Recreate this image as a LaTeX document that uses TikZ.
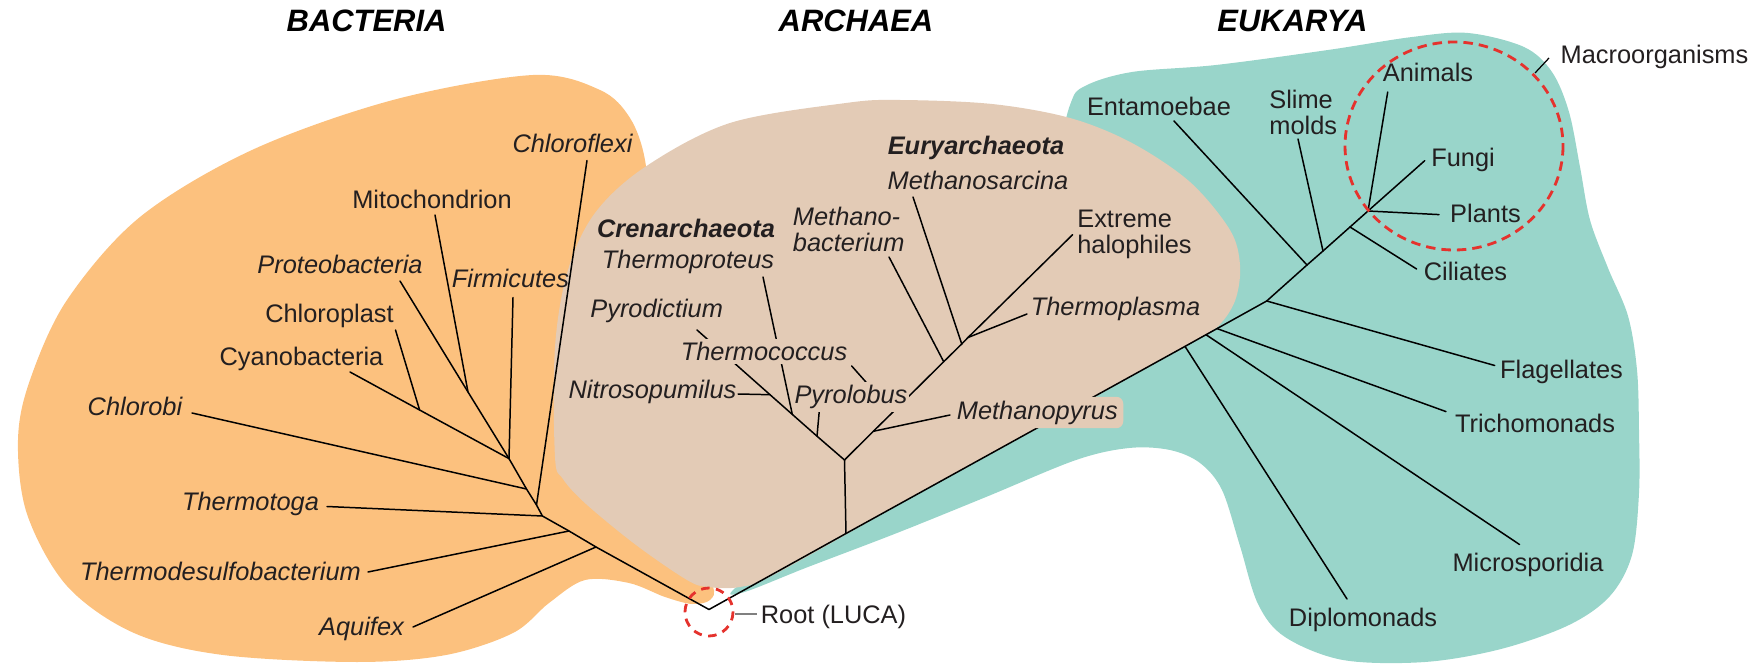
\documentclass[tikz,border=0pt]{standalone}
\usepackage{fontspec}
\setmainfont{Liberation Sans}
\definecolor{bact}{HTML}{FCC17E}
\definecolor{arch}{HTML}{E3CBB6}
\definecolor{euk}{HTML}{99D5CA}
\definecolor{luca}{HTML}{E5322D}
\definecolor{ink}{HTML}{231F20}
\newcommand{\labfont}{\fontsize{14.45}{14.8}\selectfont}
\begin{document}
\begin{tikzpicture}[x=0.02cm,y=-0.02cm,
  lab/.style={font=\labfont, text=ink, inner sep=0pt, anchor=mid},
  itl/.style={lab, font=\labfont\itshape},
  bit/.style={lab, font=\labfont\bfseries\itshape},
  mlab/.style={lab, anchor=west, align=left},
  mitl/.style={itl, anchor=west, align=left},
  title/.style={font=\fontsize{17.6}{18}\selectfont\bfseries\itshape, text=black, inner sep=0pt, anchor=mid},
  knock/.style={fill=arch, inner xsep=0.03cm, inner ysep=0.06cm},
  br/.style={draw=black, line width=0.85pt, line cap=round},
  ring/.style={draw=luca, line width=1.6pt},
  pointer/.style={draw=black, line width=0.7pt}]
\useasboundingbox (0,0) rectangle (1758,665);

% ---------- domain blobs ----------
\fill[bact] plot[smooth cycle, tension=0.55] coordinates {(533,75) (393,100) (252,150) (140,217) (67,300) (30,380) (18,440) (27,514) (67,586) (134,633) (223,655) (357,662) (446,655) (513,633) (549,603) (585,580) (629,583) (665,597) (692,604) (710,600) (712,585) (680,540) (640,460) (640,330) (648,220) (645,160) (630,118) (600,90)};
\fill[euk] plot[smooth cycle, tension=0.55] coordinates {(1070,105) (1085,86) (1132,72) (1216,65) (1328,50) (1412,37) (1468,33) (1524,47) (1552,72) (1569,112) (1580,167) (1590,220) (1608,268) (1628,316) (1637,370) (1639,431) (1639,493) (1632,555) (1610,596) (1569,625) (1501,649) (1425,662) (1343,660) (1285,637) (1258,604) (1240,546) (1222,490) (1200,463) (1170,450) (1129,448) (1076,460) (986,497) (897,533) (808,567) (741,593) (745,580) (900,470) (1000,320) (1050,180)};
\fill[arch] plot[smooth cycle, tension=0.55] coordinates {(740,587) (775,574) (900,504) (1000,449) (1100,394) (1200,338) (1222,322) (1236,298) (1240,265) (1230,230) (1190,182) (1132,143) (1070,118) (992,104) (900,100) (846,103) (730,123) (645,167) (595,213) (568,270) (555,347) (555,457) (563,479) (586,504) (636,545) (687,580) (708,587)};

% ---------- tree coordinates ----------
\coordinate (R) at (709,609.5);
% bacteria
\coordinate (bJaq) at (596,547);
\coordinate (bJtd) at (569,531);
\coordinate (bJtt) at (542.4,516);
\coordinate (bJcf) at (536.5,505);
\coordinate (bJcb) at (526.5,489);
\coordinate (bJf) at (509,458.6);
\coordinate (bJmi) at (468,392);
\coordinate (bJcp) at (419.6,410);
\coordinate (eAq) at (413,627);
\coordinate (eTd) at (368,572);
\coordinate (eTt) at (327,506.5);
\coordinate (eCf) at (587,160.5);
\coordinate (eCb) at (192,413);
\coordinate (eFi) at (513,297.5);
\coordinate (ePr) at (400,281);
\coordinate (eMi) at (435,215);
\coordinate (eCy) at (350,372);
\coordinate (eCp) at (395.5,330);
% archaea
\coordinate (aJ0) at (846,533.5);
\coordinate (aJ1) at (844.5,460);
\coordinate (ePd) at (697,330);
\coordinate (cJni) at (770,394.7);
\coordinate (cJtp) at (792.3,414.4);
\coordinate (cJpl) at (817,436.2);
\coordinate (eNi) at (738,394);
\coordinate (eTp) at (763,277);
\coordinate (ePl) at (819.3,410.7);
\coordinate (eEh) at (1072.6,234.7);
\coordinate (yJmp) at (873.3,431.3);
\coordinate (yJtc) at (892.7,412.3);
\coordinate (yJmb) at (943.7,361.7);
\coordinate (yJms) at (961.7,344);
\coordinate (yJtpl) at (968,337.5);
\coordinate (eMp) at (950,415);
\coordinate (eTc) at (851.7,366);
\coordinate (eMb) at (889,257);
\coordinate (eMs) at (913,197);
\coordinate (eTpl) at (1027,314);
% eukarya
\coordinate (kJdi) at (1185,346.4);
\coordinate (kJmi) at (1206,334.7);
\coordinate (kJtr) at (1217,328.6);
\coordinate (kJf) at (1266.7,301);
\coordinate (kJen) at (1307,265);
\coordinate (kJsl) at (1323,251);
\coordinate (kJci) at (1350,227);
\coordinate (kJma) at (1368,211);
\coordinate (eDi) at (1347,599);
\coordinate (eMc) at (1519.5,544.5);
\coordinate (eTr) at (1446,411.6);
\coordinate (eFl) at (1494.7,365.5);
\coordinate (eEn) at (1174,121);
\coordinate (eSl) at (1298,139);
\coordinate (eCi) at (1416.6,269);
\coordinate (eAn) at (1387.7,92);
\coordinate (eFu) at (1424.7,160.7);
\coordinate (ePt) at (1439,214.6);

% ---------- branches ----------
% bacteria
\draw[br] (R) -- (bJaq) -- (bJtd) -- (bJtt) -- (bJcf) -- (bJcb) -- (bJf);
\draw[br] (bJaq) -- (eAq);
\draw[br] (bJtd) -- (eTd);
\draw[br] (bJtt) -- (eTt);
\draw[br] (bJcf) -- (eCf);
\draw[br] (bJcb) -- (eCb);
\draw[br] (bJf) -- (eFi);
\draw[br] (bJf) -- (bJmi) -- (ePr);
\draw[br] (bJmi) -- (eMi);
\draw[br] (bJf) -- (bJcp) -- (eCy);
\draw[br] (bJcp) -- (eCp);
% main stem to eukarya
\draw[br] (R) -- (aJ0) -- (kJdi) -- (kJmi) -- (kJtr) -- (kJf) -- (kJen) -- (kJsl) -- (kJci) -- (kJma) -- (eFu);
% archaea
\draw[br] (aJ0) -- (aJ1);
\draw[br] (aJ1) -- (cJpl) -- (cJtp) -- (cJni) -- (ePd);
\draw[br] (cJni) -- (eNi);
\draw[br] (cJtp) -- (eTp);
\draw[br] (cJpl) -- (ePl);
\draw[br] (aJ1) -- (yJmp) -- (yJtc) -- (yJmb) -- (yJms) -- (yJtpl) -- (eEh);
\draw[br] (yJmp) -- (eMp);
\draw[br] (yJtc) -- (eTc);
\draw[br] (yJmb) -- (eMb);
\draw[br] (yJms) -- (eMs);
\draw[br] (yJtpl) -- (eTpl);
% eukarya
\draw[br] (kJdi) -- (eDi);
\draw[br] (kJmi) -- (eMc);
\draw[br] (kJtr) -- (eTr);
\draw[br] (kJf) -- (eFl);
\draw[br] (kJen) -- (eEn);
\draw[br] (kJsl) -- (eSl);
\draw[br] (kJci) -- (eCi);
\draw[br] (kJma) -- (eAn);
\draw[br] (kJma) -- (ePt);

% ---------- titles ----------
\node[title] (tB) at (366.6,27) {BACTERIA};
\node[title] (tA) at (856,27) {ARCHAEA};
\node[title] (tE) at (1292.5,27) {EUKARYA};

% ---------- bacteria labels ----------
\node[itl] (lCf) at (572.5,148) {Chloroflexi};
\node[lab] (lMi) at (432,204) {Mitochondrion};
\node[itl] (lPr) at (340,269) {Proteobacteria};
\node[itl] (lFi) at (510.5,283) {Firmicutes};
\node[lab] (lCp) at (329.5,318) {Chloroplast};
\node[lab] (lCy) at (301.5,361) {Cyanobacteria};
\node[itl] (lCb) at (135,411) {Chlorobi};
\node[itl] (lTt) at (250.5,506) {Thermotoga};
\node[itl] (lTd) at (220.5,576) {Thermodesulfobacterium};
\node[itl] (lAq) at (361.5,631) {Aquifex};

% ---------- archaea labels ----------
\node[bit] (lCr) at (686,233) {Crenarchaeota};
\node[itl] (lTp) at (688,264) {Thermoproteus};
\node[itl] (lPd) at (656.7,313) {Pyrodictium};
\node[itl, knock] (lTc) at (764,356) {Thermococcus};
\node[itl] (lNi) at (652.5,394) {Nitrosopumilus};
\node[itl, knock] (lPl) at (851,399) {Pyrolobus};
\node[itl, fill=arch, rounded corners=0.14cm, inner xsep=0.11cm, inner ysep=0.08cm, text height=0.37cm, text depth=0.1cm, anchor=center] (lMp) at (1037.3,412.5) {Methanopyrus};
\node[mitl] (lMb) at (792.6,229) {Methano-\\bacterium};
\node[bit] (lEu) at (976,149.5) {Euryarchaeota};
\node[itl] (lMs) at (978,184.5) {Methanosarcina};
\node[mlab] (lEh) at (1077,234) {Extreme\\halophiles};
\node[itl] (lTpl) at (1115.5,311) {Thermoplasma};

% ---------- eukarya labels ----------
\node[lab] (lEn) at (1159,111) {Entamoebae};
\node[mlab] (lSl) at (1269,112) {Slime\\molds};
\node[lab] (lAn) at (1428,77) {Animals};
\node[lab] (lFu) at (1463,162) {Fungi};
\node[lab] (lPt) at (1485.5,218) {Plants};
\node[lab] (lCi) at (1465.5,276) {Ciliates};
\node[lab] (lFl) at (1561.5,374) {Flagellates};
\node[lab] (lTr) at (1535,428) {Trichomonads};
\node[lab] (lMc) at (1528,567) {Microsporidia};
\node[lab] (lDi) at (1363,622) {Diplomonads};

% ---------- macroorganisms and root ----------
\draw[ring, dash pattern=on 0.19cm off 0.12cm] (1454,146) ellipse [x radius=109, y radius=104];
\node[lab] (lMa) at (1654.5,59) {Macroorganisms};
\coordinate (mp1) at (1535,73);
\coordinate (mp2) at (1549,58);
\draw[pointer] (mp1) -- (mp2);

\draw[ring, dash pattern=on 0.17cm off 0.13cm] (709,612) circle [radius=24];
\node[lab] (lR) at (833.5,619) {Root (LUCA)};
\coordinate (rp1) at (735,614);
\coordinate (rp2) at (756.5,614);
\draw[draw=gray, line width=1.3pt] (rp1) -- (rp2);
\end{tikzpicture}
\end{document}
